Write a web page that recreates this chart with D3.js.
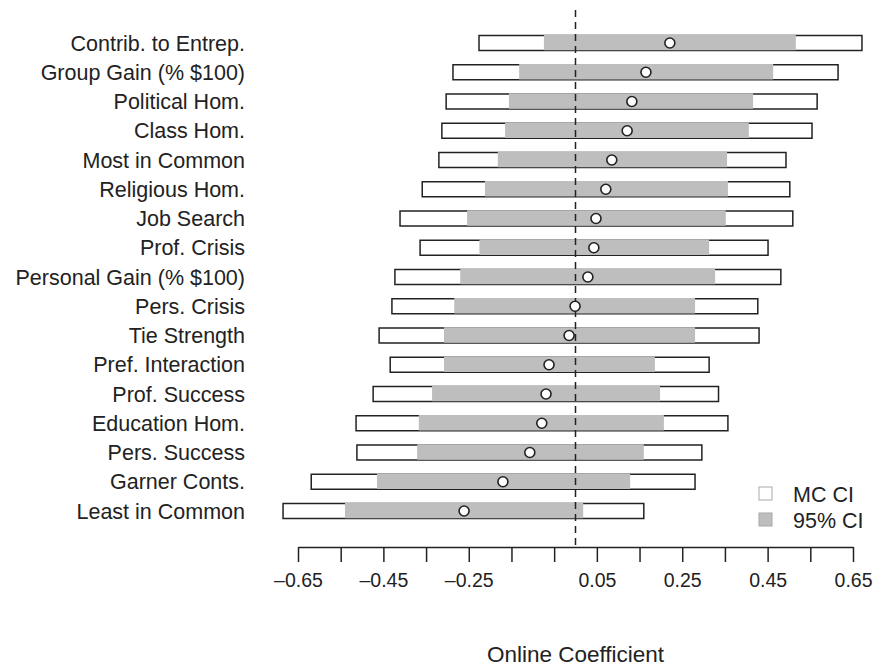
<!DOCTYPE html>
<html>
<head>
<meta charset="utf-8">
<script src="https://cdn.jsdelivr.net/npm/d3@7"></script>
<style>
  body { margin: 0; background: #fff; }
  svg { font-family: "Liberation Sans", Arial, sans-serif; }
</style>
</head>
<body>
<div id="viz"></div>
<script>
//
// Coefficient plot: MC interval (white box) with 95% interval (grey) and point estimate.
//

var labels = [
  "Contrib. to Entrep.", "Group Gain (% $100)", "Political Hom.", "Class Hom.",
  "Most in Common", "Religious Hom.", "Job Search", "Prof. Crisis",
  "Personal Gain (% $100)", "Pers. Crisis", "Tie Strength", "Pref. Interaction",
  "Prof. Success", "Education Hom.", "Pers. Success", "Garner Conts.", "Least in Common"
];

var mcLow  = [-0.226, -0.287, -0.303, -0.313, -0.320, -0.359, -0.411, -0.364, -0.423, -0.430, -0.460, -0.434, -0.474, -0.514, -0.512, -0.619, -0.685];
var mcHigh = [ 0.671,  0.615,  0.566,  0.554,  0.493,  0.502,  0.509,  0.451,  0.481,  0.427,  0.430,  0.313,  0.335,  0.357,  0.296,  0.280,  0.160];
var ciLow  = [-0.074, -0.132, -0.156, -0.165, -0.182, -0.212, -0.254, -0.225, -0.270, -0.284, -0.308, -0.308, -0.336, -0.367, -0.371, -0.465, -0.540];
var ciHigh = [ 0.516,  0.463,  0.416,  0.406,  0.355,  0.357,  0.352,  0.313,  0.327,  0.280,  0.280,  0.186,  0.198,  0.207,  0.160,  0.128,  0.018];
var est    = [ 0.221,  0.165,  0.132,  0.121,  0.085,  0.071,  0.048,  0.043,  0.029, -0.001, -0.015, -0.062, -0.069, -0.079, -0.107, -0.170, -0.261];

var tickValues = [-0.65, -0.55, -0.45, -0.35, -0.25, -0.15, -0.05, 0.05, 0.15, 0.25, 0.35, 0.45, 0.55, 0.65];
var tickLabels = ["\u20130.65", "", "\u20130.45", "", "\u20130.25", "", "", "0.05", "", "0.25", "", "0.45", "", "0.65"];

var legendLabels = ["MC CI", "95% CI"];

const width = 875, height = 666;
const boxH = 15;
const grey = "#bebebe";
const ink = "#222";

const svg = d3.select('#viz').append('svg')
  .attr("width", width)
  .attr("height", height);

const x = d3.scaleLinear().domain([-0.65, 0.65]).range([298, 853]);
const y = d3.scalePoint().domain(labels).range([43, 511]);
const axisY = 547;

var rows = labels.map((d, i) => ({
  label: d, lo: mcLow[i], hi: mcHigh[i], cl: ciLow[i], ch: ciHigh[i], est: est[i]
}));

// outer MC box
svg.append('g').selectAll('rect').data(rows).join('rect')
  .attr('x', d => x(d.lo))
  .attr('y', d => y(d.label) - boxH / 2)
  .attr('width', d => x(d.hi) - x(d.lo))
  .attr('height', boxH)
  .style('fill', 'white')
  .style('stroke', ink)
  .style('stroke-width', 1.5);

// 95% CI grey bar
svg.append('g').selectAll('rect').data(rows).join('rect')
  .attr('x', d => x(d.cl))
  .attr('y', d => y(d.label) - boxH / 2 - 0.75)
  .attr('width', d => x(d.ch) - x(d.cl))
  .attr('height', boxH + 0.5)
  .style('fill', grey);

// zero line
svg.append('line')
  .attr('x1', x(0)).attr('x2', x(0))
  .attr('y1', 10).attr('y2', axisY)
  .style('stroke', ink)
  .style('stroke-width', 1.5)
  .style('stroke-dasharray', '7,5');

// point estimates
svg.append('g').selectAll('circle').data(rows).join('circle')
  .attr('cx', d => x(d.est))
  .attr('cy', d => y(d.label))
  .attr('r', 5)
  .style('fill', 'white')
  .style('stroke', ink)
  .style('stroke-width', 1.6);

// row labels
svg.append('g').selectAll('text').data(rows).join('text')
  .attr('x', 245)
  .attr('y', d => y(d.label))
  .attr('dy', '0.36em')
  .attr('text-anchor', 'end')
  .style('font-size', '21.5px')
  .style('fill', ink)
  .text(d => d.label);

// X axis
const xAxis = svg.append("g")
  .attr("transform", `translate(0,${axisY})`)
  .call(d3.axisBottom(x)
    .tickValues(tickValues)
    .tickSize(15)
    .tickSizeOuter(0)
    .tickFormat((d, i) => tickLabels[i]));
xAxis.select('.domain').style('stroke', ink).style('stroke-width', 1.5);
xAxis.selectAll('.tick line').style('stroke', ink).style('stroke-width', 1.5);
xAxis.selectAll('.tick text')
  .attr('y', 26)
  .style('font-size', '19.5px')
  .style('font-family', '"Liberation Sans", Arial, sans-serif')
  .style('fill', ink);

svg.append('text')
  .attr('x', x(0))
  .attr('y', 662)
  .attr('text-anchor', 'middle')
  .style('font-size', '22.5px')
  .style('fill', ink)
  .text("Online Coefficient");

// legend
const legend = svg.append('g').attr('transform', 'translate(759,487)');
legendLabels.forEach((d, i) => {
  legend.append('rect')
    .attr('x', 0).attr('y', i * 26)
    .attr('width', 13).attr('height', 13)
    .style('fill', i == 0 ? 'white' : grey)
    .style('stroke', i == 0 ? '#aaa' : '#a8a8a8')
    .style('stroke-width', 1);
  legend.append('text')
    .attr('x', 34).attr('y', i * 26 + 7)
    .attr('dy', '0.36em')
    .style('font-size', '21.5px')
    .style('fill', ink)
    .text(d);
});
</script>
</body>
</html>
